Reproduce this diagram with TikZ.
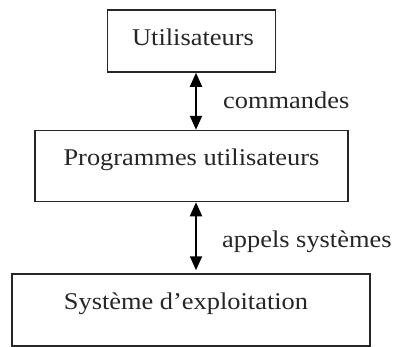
\documentclass[tikz,border=0pt]{standalone}
\usepackage{fontspec}
\setmainfont{Liberation Serif}[FakeStretch=1.1]
\usetikzlibrary{arrows.meta}
\begin{document}
\begin{tikzpicture}[x=1pt,y=-1pt,
  boxstyle/.style={draw=black!85, line width=1.5pt, rectangle, inner sep=0pt},
  txt/.style={anchor=base, inner sep=0pt, font=\fontsize{24}{28}\selectfont, text=black!85},
  dbl/.style={line width=2pt, {Triangle[width=12pt,length=14pt]}-{Triangle[width=12pt,length=14pt]}}]
\useasboundingbox (0,0) rectangle (398,346);
\fill[white] (0,0) rectangle (398,346);
\node[boxstyle, minimum width=168pt, minimum height=62pt] (u) at (191.5,41) {};
\node[boxstyle, minimum width=313pt, minimum height=71pt] (p) at (191.5,166) {};
\node[boxstyle, minimum width=358pt, minimum height=72pt] (s) at (191,310) {};
\node[txt] (ut) at (193,45) {Utilisateurs};
\node[txt] (pt) at (191.5,165) {Programmes utilisateurs};
\node[txt] (st) at (186,309) {Système d'exploitation};
\coordinate (ax) at (196,0);
\draw[dbl] (u.south -| ax) -- (p.north -| ax);
\draw[dbl, shorten >=3pt] (p.south -| ax) -- (s.north -| ax);
\node[txt, anchor=base west] (c1) at (223,108) {commandes};
\node[txt, anchor=base west] (c2) at (222,247) {appels systèmes};
\end{tikzpicture}
\end{document}
